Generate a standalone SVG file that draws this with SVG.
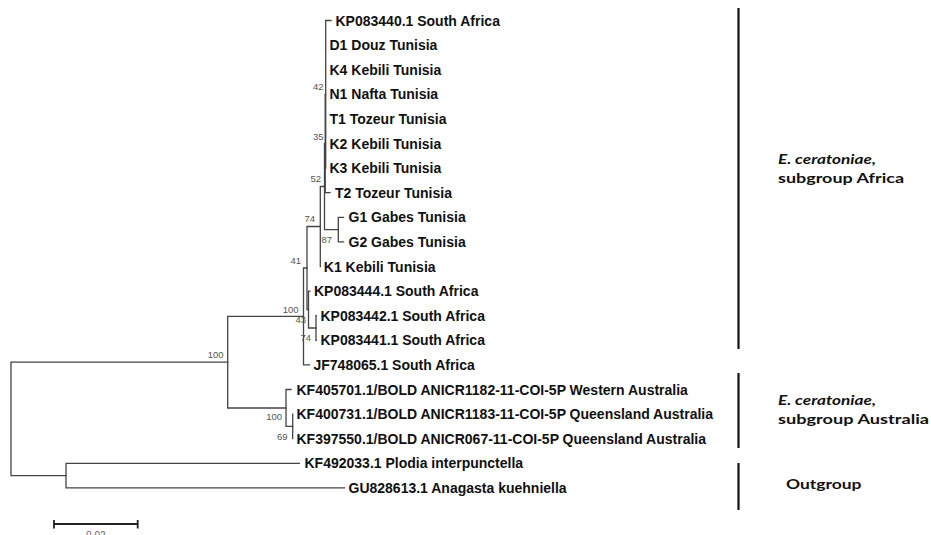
<svg xmlns="http://www.w3.org/2000/svg" width="931" height="535" viewBox="0 0 931 535">
<style>
.br{fill:none;stroke:#444;stroke-width:1.3;stroke-linecap:square}
.lf{font-family:"Liberation Sans",Arial,sans-serif;font-size:14px;font-weight:bold;fill:#111}
.bs{font-family:"Liberation Sans",Arial,sans-serif;font-size:9.5px;fill:#555;text-anchor:end}
.grp{font-family:Lato,"Open Sans",sans-serif;font-size:13px;font-weight:bold;fill:#111}
.bar{stroke:#111;stroke-width:2.2}
</style>
<rect width="931" height="535" fill="#fff"/>
<g id="connectors">
<path class="br" d="M325.7 20.5V168.1M325.7 20.5H331"/>
<path class="br" d="M325.2 94.3V192.7M325.2 94.3H325.7M325.2 192.7H330"/>
<path class="br" d="M324.5 143.5V229.6M324.5 143.5H325.2M324.5 229.6H338.3"/>
<path class="br" d="M338.3 217.3V241.9M338.3 217.3H343.5M338.3 241.9H343.5"/>
<path class="br" d="M320.3 186.5V266.5M320.3 186.5H324.5"/>
<path class="br" d="M307 226.5V309.5M307 226.5H320.3M307 309.5H308.5"/>
<path class="br" d="M308.5 291.1V328M308.5 291.1H310M308.5 328H316"/>
<path class="br" d="M316 315.7V340.3M316 315.7H316.5M316 340.3H316.5"/>
<path class="br" d="M303.5 268V364.9M303.5 268H307M303.5 364.9H309.5"/>
<path class="br" d="M227.7 316.4V408M227.7 316.4H303.5M227.7 408H286"/>
<path class="br" d="M286 389.5V426.4M286 389.5H291M286 426.4H292.7"/>
<path class="br" d="M292.7 414.1V438.7"/>
<path class="br" d="M66 463.3V487.9M66 463.3H299.3M66 487.9H344.5"/>
<path class="br" d="M11 362.2V475.6M11 362.2H227.7M11 475.6H66"/>
</g>
<g id="leaf-KP083440"><text class="lf" x="335.5" y="25.5">KP083440.1 South Africa</text></g>
<g id="leaf-D1"><text class="lf" x="329.5" y="50.1">D1 Douz Tunisia</text></g>
<g id="leaf-K4"><text class="lf" x="329.5" y="74.7">K4 Kebili Tunisia</text></g>
<g id="leaf-N1"><text class="lf" x="329.5" y="99.3">N1 Nafta Tunisia</text></g>
<g id="leaf-T1"><text class="lf" x="329.5" y="123.9">T1 Tozeur Tunisia</text></g>
<g id="leaf-K2"><text class="lf" x="329.5" y="148.5">K2 Kebili Tunisia</text></g>
<g id="leaf-K3"><text class="lf" x="329.5" y="173.1">K3 Kebili Tunisia</text></g>
<g id="leaf-T2"><text class="lf" x="335" y="197.7">T2 Tozeur Tunisia</text></g>
<g id="leaf-G1"><text class="lf" x="348.5" y="222.3">G1 Gabes Tunisia</text></g>
<g id="leaf-G2"><text class="lf" x="348.5" y="246.9">G2 Gabes Tunisia</text></g>
<g id="leaf-K1"><text class="lf" x="323.8" y="271.5">K1 Kebili Tunisia</text></g>
<g id="leaf-KP083444"><text class="lf" x="314" y="296.1">KP083444.1 South Africa</text></g>
<g id="leaf-KP083442"><text class="lf" x="320.5" y="320.7">KP083442.1 South Africa</text></g>
<g id="leaf-KP083441"><text class="lf" x="320.5" y="345.3">KP083441.1 South Africa</text></g>
<g id="leaf-JF748065"><text class="lf" x="313.5" y="369.9">JF748065.1 South Africa</text></g>
<g id="leaf-KF405701"><text class="lf" x="296.5" y="394.5">KF405701.1/BOLD ANICR1182-11-COI-5P Western Australia</text></g>
<g id="leaf-KF400731"><text class="lf" x="296.5" y="419.1">KF400731.1/BOLD ANICR1183-11-COI-5P Queensland Australia</text></g>
<g id="leaf-KF397550"><text class="lf" x="296.5" y="443.7">KF397550.1/BOLD ANICR067-11-COI-5P Queensland Australia</text></g>
<g id="leaf-KF492033"><text class="lf" x="304.5" y="468.3">KF492033.1 Plodia interpunctella</text></g>
<g id="leaf-GU828613"><text class="lf" x="348.5" y="492.9">GU828613.1 Anagasta kuehniella</text></g>
<g id="bootstrap">
<text class="bs" x="323.5" y="90">42</text>
<text class="bs" x="323.5" y="140">35</text>
<text class="bs" x="321" y="182">52</text>
<text class="bs" x="315" y="222">74</text>
<text class="bs" x="332" y="242.5">87</text>
<text class="bs" x="301" y="263.5">41</text>
<text class="bs" x="298.5" y="312.5">100</text>
<text class="bs" x="306" y="323">43</text>
<text class="bs" x="311" y="340.5">74</text>
<text class="bs" x="223.5" y="358">100</text>
<text class="bs" x="282" y="420">100</text>
<text class="bs" x="287.5" y="439.5">69</text>
</g>
<g id="group-africa">
<line class="bar" x1="738.5" y1="8" x2="738.5" y2="349"/>
<text class="grp" x="778" y="163.5" font-style="italic" textLength="98" lengthAdjust="spacingAndGlyphs">E. ceratoniae,</text>
<text class="grp" x="778" y="182.5" textLength="126" lengthAdjust="spacingAndGlyphs">subgroup Africa</text>
</g>
<g id="group-australia">
<line class="bar" x1="738.5" y1="373" x2="738.5" y2="448"/>
<text class="grp" x="778" y="404.5" font-style="italic" textLength="98" lengthAdjust="spacingAndGlyphs">E. ceratoniae,</text>
<text class="grp" x="778" y="423.5" textLength="151" lengthAdjust="spacingAndGlyphs">subgroup Australia</text>
</g>
<g id="group-outgroup">
<line class="bar" x1="738.5" y1="463" x2="738.5" y2="510"/>
<text class="grp" x="786" y="488.5" textLength="75.5" lengthAdjust="spacingAndGlyphs">Outgroup</text>
</g>
<g id="scale-bar">
<path d="M54 524H137.7M54 520V528.5M137.7 520V528.5" fill="none" stroke="#222" stroke-width="1.8"/>
<text x="95.8" y="538.5" font-family="'Liberation Sans',Arial,sans-serif" font-size="10" fill="#667" text-anchor="middle">0.02</text>
</g>
</svg>
